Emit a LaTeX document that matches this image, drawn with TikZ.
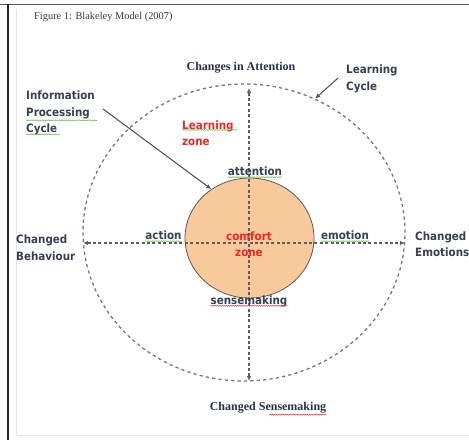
\documentclass[tikz,border=0pt]{standalone}
\usepackage{fontspec}
\setmainfont{Liberation Serif}
\newfontfamily\lblfont{DejaVu Sans Condensed}
\usepackage{tikz}
\usetikzlibrary{arrows.meta,shapes.geometric,decorations.pathmorphing}
\definecolor{framegray}{HTML}{5A5A5A}
\definecolor{edgegray}{HTML}{E4E4E4}
\definecolor{inkslate}{HTML}{36414F}
\definecolor{headnavy}{HTML}{25304A}
\definecolor{capbrown}{HTML}{3E3634}
\definecolor{zonered}{HTML}{F02626}
\definecolor{comfortfill}{HTML}{F8C99B}
\definecolor{dashgray}{HTML}{5E5E5E}
\definecolor{spellgreen}{HTML}{7CC05A}
\definecolor{spellred}{HTML}{E04545}

\begin{document}
\begin{tikzpicture}[
  x=1pt, y=-1pt,
  >={Latex[length=5pt,width=4.5pt]},
  lbl/.style={font=\lblfont\bfseries\fontsize{11.5}{16.5}\selectfont, text=inkslate,
              inner sep=0pt, align=left},
  redlbl/.style={lbl, text=zonered},
  head/.style={font=\bfseries\fontsize{12}{14}\selectfont, text=headnavy, inner sep=0pt},
  axis/.style={<->, draw=dashgray, line width=1.1pt, dash pattern=on 3pt off 2.4pt},
  pointer/.style={->, draw=black!70, line width=1pt},
  squig/.style={decorate, line width=0.6pt,
                decoration={snake, amplitude=0.45pt, segment length=2.2pt}}
]
\useasboundingbox (0,0) rectangle (469,440);

%% ---- page frame ------------------------------------------------------------
\draw[edgegray, line width=0.8pt] (16,9) -- (16,435) -- (469,435);
\draw[framegray, line width=1.6pt] (0,4.5) -- (469,4.5);
\draw[black!85, line width=1.3pt] (8,4) -- (8,440);

\node[anchor=west, inner sep=0pt, text=capbrown,
      font=\fontsize{10.4}{12}\selectfont] (fig) at (34,17)
  {Figure 1: Blakeley Model (2007)};

%% ---- learning cycle and comfort zone --------------------------------------
\node[ellipse, draw=dashgray!85, line width=1.3pt, dash pattern=on 3.2pt off 3.2pt,
      minimum width=322, minimum height=297, inner sep=0pt] (cycle) at (244,232.5) {};
\node[ellipse, draw=black!65, line width=0.8pt, fill=comfortfill,
      minimum width=129, minimum height=120, inner sep=0pt] (comfort) at (249.5,238) {};

%% the two axes end on the dashed cycle
\coordinate (tipbeh) at (83,243);
\coordinate (tipemo) at (405,243);
\coordinate (tipatt) at (249,88);
\coordinate (tipsen) at (249,381);
\draw[axis] (tipbeh) -- (tipemo);
\draw[axis] (tipatt) -- (tipsen);

\node[redlbl, align=center] (czone) at (249,244) {comfort\\zone};

%% ---- labels ----------------------------------------------------------------
\node[head] (hatt) at (241,68) {Changes in Attention};
\node[head] (hsen) at (268,408) {Changed Sensemaking};

\node[lbl, anchor=west] (lcyc) at (346,79) {Learning\\Cycle};
\node[lbl, anchor=west] (ipc) at (26,113) {Information\\Processing\\Cycle};
\node[redlbl, anchor=west] (lzone) at (182,133) {Learning\\zone};

\node[lbl] (att) at (255,171) {attention};
\node[lbl] (act) at (163.5,235) {action};
\node[lbl] (emo) at (345,235) {emotion};
\node[lbl] (sen) at (249,301) {sensemaking};
\node[lbl, anchor=west] (cbeh) at (16,247.5) {Changed\\Behaviour};
\node[lbl, anchor=west] (cemo) at (415,244) {Changed\\Emotions};

\draw[pointer] ([xshift=-8pt, yshift=1pt]lcyc.west) -- (cycle.62);
\draw[pointer] ([xshift=8pt, yshift=4pt]ipc.east) -- (comfort.128);

%% ---- spelling marks --------------------------------------------------------
\draw[spellgreen, squig] ([yshift=-1.5pt]att.south west) -- ([yshift=-1.5pt]att.south east);
\draw[spellgreen, squig] ([yshift=-1.5pt]act.south west) -- ([yshift=-1.5pt]act.south east);
\draw[spellgreen, squig] ([yshift=-1.5pt]emo.south west) -- ([yshift=-1.5pt]emo.south east);
\draw[spellred, squig] ([yshift=1pt]sen.south west) -- ([yshift=1pt]sen.south east);
\draw[spellred, squig] ([xshift=-57pt, yshift=-1pt]hsen.south east) -- ([yshift=-1pt]hsen.south east);
\draw[spellgreen, squig] ([yshift=15pt]ipc.south west) -- ([xshift=71pt, yshift=15pt]ipc.south west);
\draw[spellgreen, squig] ([yshift=1pt]ipc.south west) -- ([xshift=34pt, yshift=1pt]ipc.south west);
\draw[spellgreen, squig] ([yshift=16pt]lzone.south west) -- ([xshift=55pt, yshift=16pt]lzone.south west);

\end{tikzpicture}
\end{document}
